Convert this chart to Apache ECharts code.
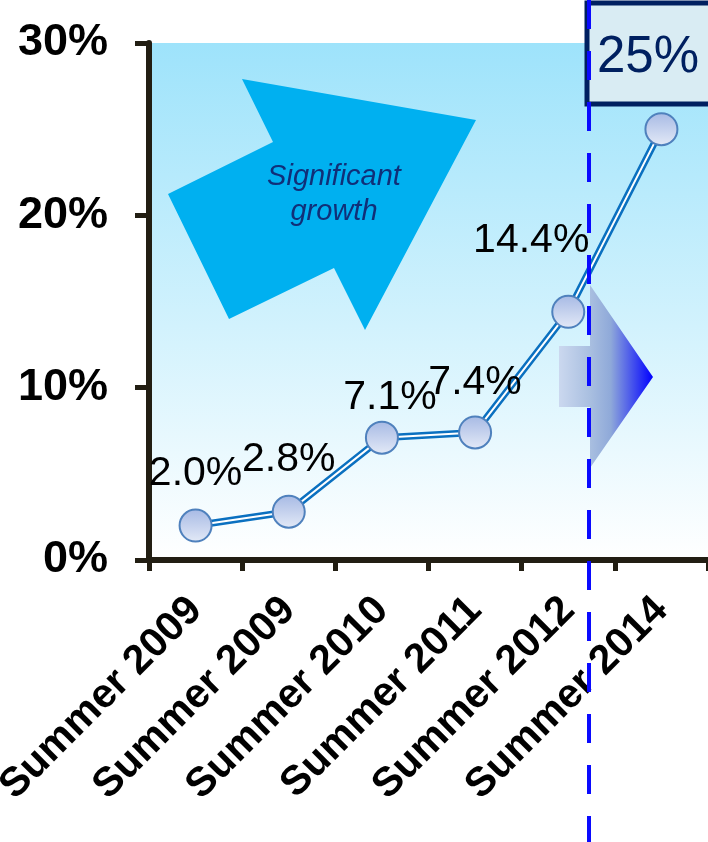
<!DOCTYPE html>
<html>
<head>
<meta charset="utf-8">
<script src="https://cdn.jsdelivr.net/npm/echarts@6/dist/echarts.min.js"></script>
<style>
html,body{margin:0;padding:0;background:#fff;}
#chart{width:708px;height:842px;}
</style>
</head>
<body>
<div id="chart"></div>
<script>
// ---- data ----
var categories = ['Summer 2009', 'Summer 2009', 'Summer 2010', 'Summer 2011', 'Summer 2012', 'Summer 2014'];
var values = [2.0, 2.8, 7.1, 7.4, 14.4, 25];
var yTicks = [0, 10, 20, 30];
var annotationText = 'Significant\ngrowth';

// ---- label placement (style only) ----
var labelOffsets = [[0, -52], [0, -52], [8, -40], [0, -50], [-37, -71], null];

var chart = echarts.init(document.getElementById('chart'));
var FONT = '"Liberation Sans", Arial, sans-serif';
var AXIS_COLOR = '#221e13';

var pointData = values.map(function (v, i) {
  var off = labelOffsets[i];
  return {
    value: v,
    label: off ? { show: true, position: 'inside', offset: off } : { show: false }
  };
});

var lastVal = values[values.length - 1];

chart.setOption({
  animation: false,
  grid: {
    left: 149, right: 0, top: 43, bottom: 282,
    containLabel: false,
    outerBoundsMode: 'none',
    show: true,
    borderWidth: 0,
    backgroundColor: new echarts.graphic.LinearGradient(0, 0, 0, 1, [
      { offset: 0, color: '#9ee3fb' },
      { offset: 0.55, color: '#d2f2fd' },
      { offset: 1, color: '#ffffff' }
    ])
  },
  xAxis: {
    type: 'category',
    data: categories,
    boundaryGap: true,
    axisLine: { show: true, lineStyle: { color: AXIS_COLOR, width: 6 } },
    axisTick: { show: true, alignWithLabel: false, length: 11, lineStyle: { color: AXIS_COLOR, width: 5 } },
    axisLabel: {
      rotate: 45, margin: 44, interval: 0,
      fontFamily: FONT, fontWeight: 'bold', fontSize: 41, color: '#000'
    },
    splitLine: { show: false }
  },
  yAxis: {
    type: 'value',
    min: yTicks[0], max: yTicks[yTicks.length - 1], interval: yTicks[1] - yTicks[0],
    axisLine: { show: true, lineStyle: { color: AXIS_COLOR, width: 6 } },
    axisTick: { show: true, length: 14, lineStyle: { color: AXIS_COLOR, width: 5 } },
    axisLabel: {
      margin: 41, formatter: '{value}%',
      fontFamily: FONT, fontWeight: 'bold', fontSize: 45, color: '#000'
    },
    splitLine: { show: false }
  },
  graphic: [
    {
      type: 'polygon', z: 1,
      shape: { points: [[476,120],[242,79],[273,142],[168,194],[229,319],[334,268],[365,330]] },
      style: { fill: '#00b0f0' }
    },
    {
      type: 'text', z: 1,
      x: 334, y: 194,
      style: {
        text: annotationText, fill: '#102f78', font: 'italic 29px "Liberation Sans", Arial, sans-serif',
        align: 'center', verticalAlign: 'middle', lineHeight: 35
      }
    },
    {
      type: 'polygon', z: 1,
      shape: { points: [[559,346],[590,346],[590,285],[653,377],[590,468],[590,407],[559,407]] },
      style: {
        fill: new echarts.graphic.LinearGradient(0, 0, 1, 0, [
          { offset: 0, color: '#cbd8ef' },
          { offset: 0.33, color: '#a9bfe0' },
          { offset: 0.55, color: '#8fa9d9' },
          { offset: 1, color: '#0000ff' }
        ])
      }
    },
    {
      type: 'rect', z: 20,
      shape: { x: 587, y: 3, width: 130, height: 101 },
      style: { fill: '#d9ecf3', stroke: '#002060', lineWidth: 5 }
    },
    {
      type: 'text', z: 21,
      x: 648, y: 58,
      style: {
        text: lastVal + '%', fill: '#002060', font: '51px "Liberation Sans", Arial, sans-serif',
        align: 'center', verticalAlign: 'middle'
      }
    },
    {
      type: 'line', z: 30,
      shape: { x1: 589, y1: 0, x2: 589, y2: 842 },
      style: { stroke: '#0a0aff', lineWidth: 4, lineDash: [29, 22] }
    }
  ],
  series: [
    {
      type: 'line', data: values, z: 3,
      showSymbol: false, silent: true,
      lineStyle: { color: '#0a70c0', width: 7 }
    },
    {
      type: 'line', data: values, z: 4,
      showSymbol: false, silent: true,
      lineStyle: { color: '#ffffff', width: 2 }
    },
    {
      type: 'line', data: pointData, z: 5,
      symbol: 'circle', symbolSize: 32, showSymbol: true,
      lineStyle: { width: 0, opacity: 0 },
      itemStyle: {
        color: new echarts.graphic.LinearGradient(0, 0, 0, 1, [
          { offset: 0, color: '#a6b9e4' },
          { offset: 1, color: '#e4eaf7' }
        ]),
        borderColor: '#4f81bd', borderWidth: 2
      },
      label: {
        show: true, position: 'inside',
        formatter: function (p) { return p.value.toFixed(1) + '%'; },
        fontFamily: FONT, fontSize: 41, color: '#000',
        align: 'center', verticalAlign: 'middle'
      }
    }
  ]
});
</script>
</body>
</html>
